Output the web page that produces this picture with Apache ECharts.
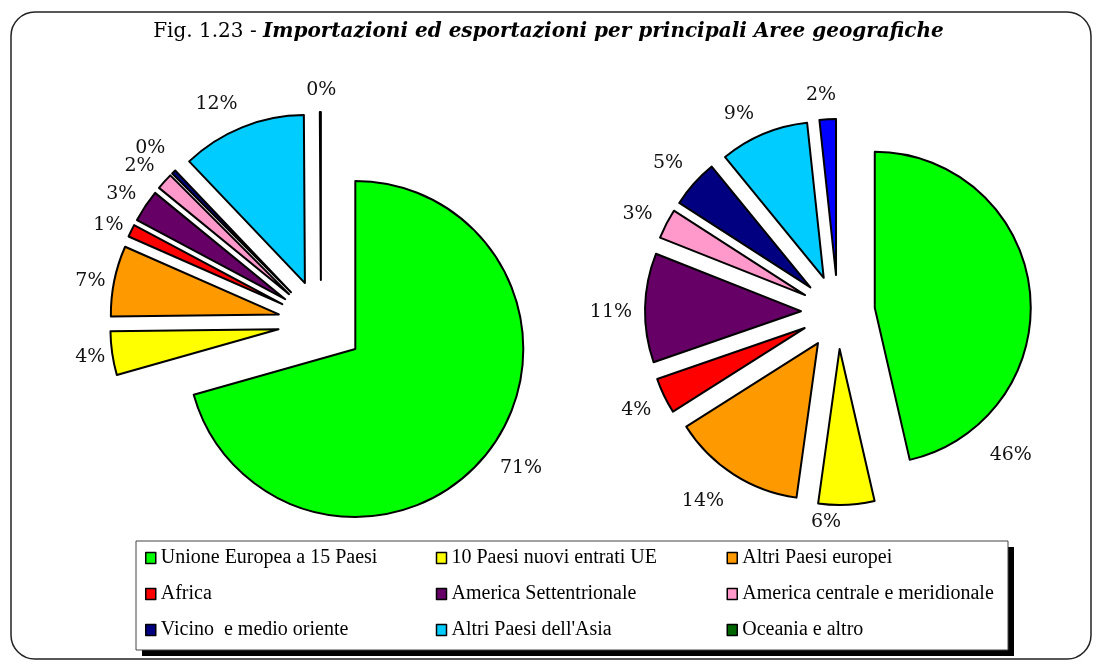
<!DOCTYPE html>
<html>
<head>
<meta charset="utf-8">
<script src="https://cdn.jsdelivr.net/npm/echarts@6/dist/echarts.min.js"></script>
<style>
  html, body { margin: 0; padding: 0; background: #fff; }
  #chart { width: 1097px; height: 664px; }
</style>
</head>
<body>
<div id="chart"></div>
<script>
const categories = [
  'Unione Europea a 15 Paesi',
  '10 Paesi nuovi entrati UE',
  'Altri Paesi europei',
  'Africa',
  'America Settentrionale',
  'America centrale e meridionale',
  'Vicino  e medio oriente',
  "Altri Paesi dell'Asia",
  'Oceania e altro'
]
// importazioni (left pie) and esportazioni (right pie), in %
const importValues = [70.6, 4.2, 6.8, 1.2, 3.1, 1.6, 0.4, 12.0, 0.1]
const exportValues = [46.4, 5.8, 13.8, 3.7, 11.3, 3.1, 5.0, 9.2, 1.7]
const sliceColors = ['#00ff00', '#ffff00', '#ff9900', '#ff0000', '#660066', '#ff99cc', '#000080', '#00ccff', '#006600']
const exportColors = ['#00ff00', '#ffff00', '#ff9900', '#ff0000', '#660066', '#ff99cc', '#000080', '#00ccff', '#0000ff']

const serif = 'DejaVu Serif'

// small label nudges so the percentages sit where the original ones do
const importLabelShift = [[-4, 11], [10, 2], [8, 3], [8, 0], [6, -5], [4, -7], [5, -15], [5, -12], [21, -10]]
const exportLabelShift = [[-57, 166], [-41, 5], [2, 17], [3, 9], [4, 5], [2, -4], [3, -12], [0, -9], [14, -12]]

function buildData(values, colors) {
  return categories.map((name, i) => ({
    name: name,
    value: values[i],
    selected: true,
    itemStyle: { color: colors[i] }
  }))
}

function pieSeries(center, radius, offset, values, colors, shift) {
  return {
    type: 'pie',
    center: center,
    radius: radius,
    startAngle: 90,
    selectedMode: 'multiple',
    selectedOffset: offset,
    avoidLabelOverlap: false,
    animation: false,
    emphasis: { scale: false, disabled: true },
    itemStyle: { borderColor: '#000', borderWidth: 2 },
    label: {
      position: 'outside',
      formatter: p => Math.round(p.percent) + '%',
      fontFamily: serif,
      fontSize: 19,
      color: '#111'
    },
    labelLine: { show: false, length: 12, length2: 0 },
    labelLayout: p => ({
      dx: shift[p.dataIndex][0],
      dy: shift[p.dataIndex][1],
      hideOverlap: false
    }),
    data: buildData(values, colors)
  }
}

const chart = echarts.init(document.getElementById('chart'))
chart.setOption({
  backgroundColor: '#fff',
  title: {
    left: 'center',
    top: 17,
    text: '{n|Fig. 1.23 - }{b|Importazioni ed esportazioni per principali Aree geografiche}',
    textStyle: {
      rich: {
        n: { fontFamily: serif, fontSize: 20, fontWeight: 'normal', color: '#000' },
        b: { fontFamily: serif, fontSize: 20, fontWeight: 'bold', fontStyle: 'italic', color: '#000' }
      }
    }
  },
  legend: {
    left: 140,
    top: 540,
    width: 880,
    orient: 'horizontal',
    icon: 'rect',
    itemWidth: 10,
    itemHeight: 11,
    itemGap: 10,
    selectedMode: false,
    itemStyle: { borderColor: '#000', borderWidth: 1.5 },
    textStyle: {
      fontFamily: 'Liberation Serif',
      fontSize: 20,
      color: '#000',
      width: 265,
      lineHeight: 26
    },
    data: categories
  },
  graphic: [
    {
      type: 'rect',
      z: -1,
      shape: { x: 11, y: 12, width: 1080, height: 647, r: 24 },
      style: { fill: 'none', stroke: '#222', lineWidth: 1.5 }
    },
    {
      type: 'rect',
      z: -2,
      shape: { x: 142, y: 547, width: 872, height: 109 },
      style: { fill: '#000' }
    },
    {
      type: 'rect',
      z: -1,
      shape: { x: 136, y: 541, width: 872, height: 109 },
      style: { fill: '#fff', stroke: '#444', lineWidth: 1 }
    }
  ],
  series: [
    pieSeries([321, 323], 168, 43, importValues, sliceColors, importLabelShift),
    pieSeries([838, 312], 156, 37, exportValues, exportColors, exportLabelShift)
  ]
})
</script>
</body>
</html>
